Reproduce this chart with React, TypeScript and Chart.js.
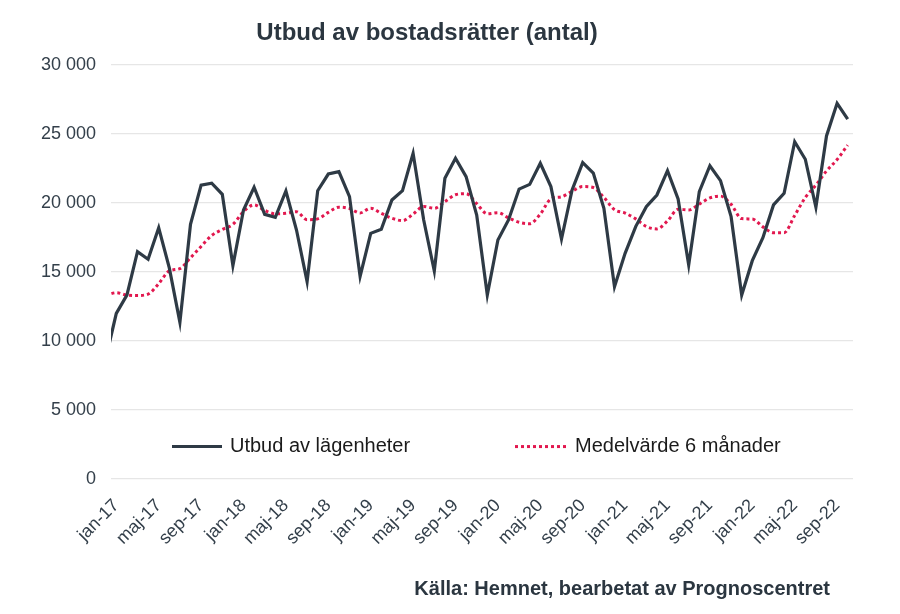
import React, { useEffect, useRef } from "react";
import { Chart, registerables } from "chart.js";

Chart.register(...registerables);

const TITLE = "Utbud av bostadsrätter (antal)";
const SOURCE = "Källa: Hemnet, bearbetat av Prognoscentret";
const SERIES_SUPPLY = "Utbud av lägenheter";
const SERIES_AVG = "Medelvärde 6 månader";

const monthLabels = [
  "dec-16",
  "jan-17", "feb-17", "mar-17", "apr-17", "maj-17", "jun-17", "jul-17", "aug-17", "sep-17", "okt-17", "nov-17", "dec-17",
  "jan-18", "feb-18", "mar-18", "apr-18", "maj-18", "jun-18", "jul-18", "aug-18", "sep-18", "okt-18", "nov-18", "dec-18",
  "jan-19", "feb-19", "mar-19", "apr-19", "maj-19", "jun-19", "jul-19", "aug-19", "sep-19", "okt-19", "nov-19", "dec-19",
  "jan-20", "feb-20", "mar-20", "apr-20", "maj-20", "jun-20", "jul-20", "aug-20", "sep-20", "okt-20", "nov-20", "dec-20",
  "jan-21", "feb-21", "mar-21", "apr-21", "maj-21", "jun-21", "jul-21", "aug-21", "sep-21", "okt-21", "nov-21", "dec-21",
  "jan-22", "feb-22", "mar-22", "apr-22", "maj-22", "jun-22", "jul-22", "aug-22", "sep-22", "okt-22",
];

const supplyValues = [
  8700,
  12000, 13330, 16470, 15920, 18200, 15300, 11350, 18450, 21300, 21430, 20630, 15460,
  19490, 21140, 19180, 18960, 20870, 18040, 14300, 20890, 22100, 22270, 20460, 14680,
  17800, 18090, 20220, 20890, 23600, 18770, 15070, 21790, 23240, 21910, 19130, 13330,
  17320, 18770, 21010, 21350, 22880, 21190, 17390, 20940, 22920, 22170, 19620, 13940,
  16350, 18290, 19730, 20580, 22340, 20290, 15510, 20820, 22700, 21620, 19010, 13330,
  15820, 17490, 19860, 20700, 24440, 23170, 19690, 24860, 27220, 26070,
];

const avgValues = [
  13300,
  13500, 13330, 13300, 13400, 14150, 15080, 15250, 16030, 16850, 17650, 18080, 18450,
  19370, 19860, 19470, 19220, 19250, 19370, 18790, 18850, 19320, 19700, 19600, 19280,
  19620, 19250, 18900, 18720, 19200, 19750, 19620, 20100, 20600, 20680, 19950, 19220,
  19300, 18920, 18600, 18500, 19200, 20300, 20450, 20850, 21190, 21120, 20400, 19520,
  19270, 18850, 18300, 18120, 18700, 19540, 19500, 19920, 20370, 20500, 19900, 18870,
  18840, 18270, 17850, 17850, 19100, 20400, 21300, 22320, 23150, 24200,
];

const tickMonths = [
  "jan-17", "maj-17", "sep-17", "jan-18", "maj-18", "sep-18", "jan-19", "maj-19", "sep-19",
  "jan-20", "maj-20", "sep-20", "jan-21", "maj-21", "sep-21", "jan-22", "maj-22", "sep-22",
];

const yMin = 0;
const yMax = 30000;
const yStep = 5000;
const legendLevel = 2350;

const FONT = '"Liberation Sans", Arial, sans-serif';
const DARK = "#2e3a45";
const RED = "#e2184f";
const AXIS_TEXT = "#333f4a";

const fmt = (v: number) => String(v).replace(/\B(?=(\d{3})+(?!\d))/g, " ");

const overlayPlugin = {
  id: "overlay",
  afterDraw(chart: any) {
    const { ctx, chartArea, scales } = chart;
    ctx.save();
    ctx.fillStyle = "#2b3640";
    ctx.textBaseline = "alphabetic";
    ctx.font = `bold 24px ${FONT}`;
    ctx.textAlign = "center";
    ctx.fillText(TITLE, 427, 40);
    ctx.font = `bold 20px ${FONT}`;
    ctx.textAlign = "right";
    ctx.fillText(SOURCE, 830, 595);

    const y = scales.y.getPixelForValue(legendLevel);
    const L = chartArea.left;
    ctx.lineCap = "butt";
    ctx.strokeStyle = DARK;
    ctx.lineWidth = 3;
    ctx.beginPath();
    ctx.moveTo(L + 61, y);
    ctx.lineTo(L + 111, y);
    ctx.stroke();
    ctx.strokeStyle = RED;
    ctx.setLineDash([3, 3]);
    ctx.beginPath();
    ctx.moveTo(L + 404, y);
    ctx.lineTo(L + 456, y);
    ctx.stroke();
    ctx.setLineDash([]);
    ctx.fillStyle = "#1b1b1b";
    ctx.font = `20px ${FONT}`;
    ctx.textAlign = "left";
    ctx.textBaseline = "middle";
    ctx.fillText(SERIES_SUPPLY, L + 119, y);
    ctx.fillText(SERIES_AVG, L + 464, y);
    ctx.restore();
  },
};

export default function App() {
  const ref = useRef<HTMLCanvasElement | null>(null);

  useEffect(() => {
    if (!ref.current) return;
    const tickIdx = tickMonths.map((m) => monthLabels.indexOf(m));
    const chart = new Chart(ref.current, {
      type: "line",
      data: {
        datasets: [
          {
            label: SERIES_SUPPLY,
            data: supplyValues.map((v, i) => ({ x: i, y: v })),
            borderColor: DARK,
            borderWidth: 3.2,
            pointRadius: 0,
            tension: 0,
            clip: { left: 0, right: false, top: false, bottom: false } as any,
            order: 1,
          },
          {
            label: SERIES_AVG,
            data: avgValues.map((v, i) => ({ x: i, y: v })),
            borderColor: RED,
            borderWidth: 3,
            borderDash: [3, 3],
            pointRadius: 0,
            cubicInterpolationMode: "monotone",
            clip: { left: 0, right: false, top: false, bottom: false } as any,
            order: 2,
          },
        ],
      },
      options: {
        animation: false,
        responsive: true,
        maintainAspectRatio: false,
        layout: { padding: { left: 0, top: 65, right: 47, bottom: 0 } },
        plugins: { legend: { display: false }, tooltip: { enabled: false }, title: { display: false } },
        scales: {
          x: {
            type: "linear",
            min: 0.5,
            max: monthLabels.length - 0.5,
            grid: { display: false },
            border: { display: false },
            afterBuildTicks: (s: any) => {
              s.ticks = tickIdx.map((v) => ({ value: v }));
            },
            afterFit: (s: any) => {
              s.height = 135;
            },
            ticks: {
              autoSkip: false,
              minRotation: 45,
              maxRotation: 45,
              padding: 8,
              color: AXIS_TEXT,
              font: { family: FONT, size: 18 },
              callback: (v: any) => monthLabels[Math.round(Number(v))] ?? "",
            },
          },
          y: {
            min: yMin,
            max: yMax,
            grid: { color: "#e6e6e6", lineWidth: 1.3, drawTicks: false },
            border: { display: false },
            afterFit: (s: any) => {
              s.width = 111;
            },
            ticks: {
              stepSize: yStep,
              padding: 15,
              color: AXIS_TEXT,
              font: { family: FONT, size: 18 },
              callback: (v: any) => fmt(Number(v)),
            },
          },
        },
      },
      plugins: [overlayPlugin],
    });
    return () => chart.destroy();
  }, []);

  return (
    <div style={{ position: "fixed", left: 0, top: 0, width: 900, height: 614, background: "#fff" }}>
      <canvas ref={ref} />
    </div>
  );
}
